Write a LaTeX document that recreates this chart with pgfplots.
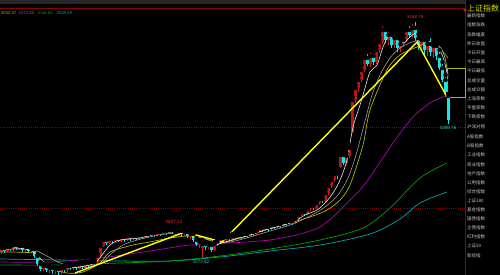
\documentclass[border=0pt]{standalone}
\usepackage{fontspec}
\setmainfont{Liberation Sans}
\newfontfamily\cjk{Noto Sans CJK SC}
\usepackage{pgfplots}
\usepackage{pgfplotstable}
\pgfplotsset{compat=1.18}
\definecolor{candred}{HTML}{E01818}
\definecolor{candcyan}{HTML}{10E8E8}
\definecolor{ma5}{HTML}{E8E8E8}
\definecolor{ma10}{HTML}{9A9A9A}
\definecolor{ma20}{HTML}{B4B400}
\definecolor{ma60}{HTML}{B000B0}
\definecolor{ma120}{HTML}{00A000}
\definecolor{ma250}{HTML}{00A8A8}
\definecolor{gridred}{HTML}{8C0000}
\definecolor{trend}{HTML}{FFFF00}
\definecolor{paneltext}{HTML}{C8C8C8}
\definecolor{labred}{HTML}{E03030}
\definecolor{labcyan}{HTML}{20C8C8}

% y values are screen rows (y dir = reverse): o=open, c=close, h=high, l=low
\pgfplotstableread{
x o c h l
1.5 252 248 246 254
7.5 251 247 245 252
13.5 249 245 243 251
19.5 248 246 244 250
25.5 250 247 245 252
31.5 251 249 247 253
43.5 269 266 264 271
49.5 270 268 266 273
55.5 271 269 267 274
61.5 272 268 266 274
67.5 270 266 264 272
73.5 268 265 263 270
79.5 268 264 262 269
85.5 267 263 261 268
91.5 266 262 260 267
97.5 264 256 254 265
100.5 256 246 244 257
103.5 246 240 238 247
109.5 243 239 237 244
115.5 241 238 236 243
121.5 241 237 235 242
127.5 240 236 234 241
133.5 239 236 234 240
139.5 238 235 233 239
145.5 237 234 232 238
151.5 236 233 231 237
157.5 235 232 230 236
163.5 234 231 229 235
169.5 233 230 228 234
178.5 233 231 229 235
184.5 234 232 230 236
190.5 236 234 232 239
199.5 244 242 240 248
202.5 248 244 240 258
208.5 247 245 243 249
214.5 250 244 242 251
217.5 244 241 239 246
220.5 241 238 236 243
226.5 240 237 235 241
232.5 239 236 234 240
238.5 238 235 233 239
244.5 237 234 232 238
250.5 236 232 230 237
256.5 234 231 229 235
259.5 231 228 226 232
265.5 230 227 225 231
271.5 229 225 223 230
277.5 227 224 222 228
283.5 226 222 220 227
289.5 224 221 219 225
295.5 223 219 217 224
298.5 219 215 213 220
301.5 215 212 210 216
307.5 214 209 207 215
310.5 209 206 204 211
316.5 208 203 201 209
319.5 203 199 197 205
325.5 201 193 190 202
328.5 193 186 183 195
331.5 186 180 177 188
334.5 180 174 171 182
340.5 167 155 152 168
346.5 163 156 153 165
349.5 156 148 145 158
352.5 132 100 97 133
355.5 100 88 85 103
358.5 88 80 76 92
361.5 80 70 65 82
364.5 70 58 55 72
370.5 64 56 50 67
376.5 62 50 47 64
379.5 50 42 38 53
382.5 42 30 24 44
388.5 40 35 30 45
394.5 45 38 33 48
400.5 48 44 40 52
403.5 44 40 36 47
406.5 40 30 26 42
412.5 35 28 22 38
421.5 45 40 37 50
427.5 50 44 40 56
433.5 52 46 42 58
}\redcandles

\pgfplotstableread{
x o c h l
4.5 248 251 246 253
10.5 247 249 244 251
16.5 245 248 243 250
22.5 246 250 245 252
28.5 247 251 246 253
34.5 249 256 248 258
37.5 256 264 255 266
40.5 264 269 262 271
46.5 266 270 265 272
52.5 268 271 267 274
58.5 269 272 268 275
64.5 268 270 266 272
70.5 266 268 264 270
76.5 265 268 264 270
82.5 264 267 262 269
88.5 263 266 262 268
94.5 262 264 260 266
106.5 240 243 238 245
112.5 239 241 237 243
118.5 238 241 236 242
124.5 237 240 235 242
130.5 236 239 234 241
136.5 236 238 233 240
142.5 235 237 233 239
148.5 234 236 232 238
154.5 233 235 231 237
160.5 232 234 230 236
166.5 231 233 229 235
172.5 230 232 226 234
175.5 232 233 230 236
181.5 231 234 229 236
187.5 232 236 231 238
193.5 234 240 233 242
196.5 240 244 238 246
205.5 244 247 242 250
211.5 245 250 244 252
223.5 238 240 236 242
229.5 237 239 235 241
235.5 236 238 234 240
241.5 235 237 233 239
247.5 234 236 232 238
253.5 232 234 230 236
262.5 228 230 226 232
268.5 227 229 225 231
274.5 225 227 223 229
280.5 224 226 222 228
286.5 222 224 220 226
292.5 221 223 219 225
304.5 212 214 210 216
313.5 206 208 203 210
322.5 199 201 196 203
337.5 174 176 170 179
343.5 155 163 152 165
367.5 58 64 52 66
373.5 56 62 52 65
385.5 30 40 27 43
391.5 35 45 32 48
397.5 38 48 35 52
409.5 30 35 24 38
415.5 28 38 20 41
418.5 38 45 34 50
424.5 40 50 38 55
430.5 44 52 36 56
436.5 46 56 44 60
439.5 56 68 50 70
442.5 68 80 62 82
445.5 80 92 75 95
448.5 96 120 94 124
}\cyancandles

\begin{document}
\begin{tikzpicture}
\path[use as bounding box] (0,0) rectangle (500pt,275pt);
\clip (0,0) rectangle (500pt,275pt);
\fill[black] (0,0) rectangle (500pt,275pt);
\begin{axis}[
  at={(0,0)}, anchor=south west,
  scale only axis, width=500pt, height=275pt,
  xmin=0, xmax=500, ymin=0, ymax=275, y dir=reverse,
  axis lines=none, clip=false,
]
% top strip and frame lines
\addplot[draw=none, fill=black!85!white, forget plot] coordinates {(0,4) (465,4)} \closedcycle;
\addplot[gridred, line width=0.9pt, forget plot] coordinates {(0,8.5) (465,8.5)};
\addplot[gridred, line width=0.9pt, forget plot] coordinates {(465.5,0) (465.5,275)};
\addplot[gridred, line width=0.6pt, dash pattern=on 1pt off 1.2pt, forget plot] coordinates {(0,127) (465,127)};
\addplot[gridred, line width=0.6pt, dash pattern=on 1pt off 1.2pt, forget plot] coordinates {(0,208) (465,208)};

% long moving averages
\addplot[ma250, line width=0.7pt, smooth, forget plot] coordinates {(0,259)(60,260)(120,261)(170,261)(220,257)(270,251)(320,245)(370,234)(400,219)(420,203)(447,192)};
\addplot[ma120, line width=0.7pt, smooth, forget plot] coordinates {(0,265)(60,265)(120,263)(170,261)(220,256)(270,249)(320,240)(363,228)(390,208)(420,178)(447,163)};
\addplot[ma60, line width=0.7pt, smooth, forget plot] coordinates {(0,262)(50,262)(100,258)(150,251)(190,245)(230,243)(270,240)(300,234)(320,227)(335,215)(347,203)(360,190)(370,177)(385,155)(395,140)(413,117)(430,103)(443,97)(450,96)};

% candles: wicks
\addplot[only marks, mark=none, forget plot, error bars/.cd, y dir=plus, y explicit, error mark=none,
  error bar style={draw=candred, line width=0.6pt}]
  table[x=x, y=h, y error plus expr=\thisrow{l}-\thisrow{h}] {\redcandles};
\addplot[only marks, mark=none, forget plot, error bars/.cd, y dir=plus, y explicit, error mark=none,
  error bar style={draw=candcyan, line width=0.6pt}]
  table[x=x, y=h, y error plus expr=\thisrow{l}-\thisrow{h}] {\cyancandles};
% candles: bodies
\addplot[only marks, mark=none, forget plot, error bars/.cd, y dir=plus, y explicit, error mark=none,
  error bar style={draw=candred!85!black, line width=2.2pt}]
  table[x=x, y=c, y error plus expr={max(\thisrow{o}-\thisrow{c},0.8)}] {\redcandles};
\addplot[only marks, mark=none, forget plot, error bars/.cd, y dir=plus, y explicit, error mark=none,
  error bar style={draw=candcyan, line width=2.2pt}]
  table[x=x, y=o, y error plus expr={max(\thisrow{c}-\thisrow{o},0.8)}] {\cyancandles};

% short moving averages
\addplot[ma20, line width=0.7pt, smooth, forget plot] coordinates {(0,252)(33,253)(40,260)(50,268)(67,273)(83,272)(100,263)(110,252)(133,245)(150,242)(170,238)(190,236)(210,240)(225,242)(240,238)(265,230)(283,225)(310,217)(327,210)(340,200)(350,185)(363,145)(370,110)(387,70)(400,55)(417,47)(430,42)(440,47)(445,58)(448,75)};
\addplot[ma10, line width=0.6pt, smooth, forget plot] coordinates {(0,250)(30,249)(45,255)(60,263)(80,268)(100,264)(112,253)(125,244)(145,238)(165,234)(185,233)(200,237)(215,242)(230,242)(250,237)(270,231)(290,225)(310,216)(325,207)(338,195)(348,178)(356,155)(364,125)(372,95)(380,75)(390,58)(400,48)(412,42)(425,40)(437,45)(448,58)};
\addplot[ma5, line width=0.6pt, smooth, forget plot] coordinates {(0,249)(15,248)(30,250)(38,256)(45,263)(55,268)(70,268)(85,266)(95,263)(102,255)(110,245)(120,240)(140,238)(160,233)(180,232)(192,236)(202,242)(212,246)(222,243)(235,239)(250,235)(265,230)(280,226)(295,221)(305,215)(317,210)(325,203)(333,193)(340,180)(347,160)(353,127)(360,105)(365,88)(370,72)(377,65)(383,47)(388,37)(393,37)(403,43)(410,37)(417,33)(427,40)(437,47)(443,57)(448,77)};

% trend lines
\addplot[trend, line width=1.4pt, forget plot] coordinates {(75,273)(185,232)(222,242)(417,42)(447,97)};
% selection box
\addplot[ma20, line width=0.6pt, forget plot] coordinates {(447,68)(465,68)(465,97)(447,97)(447,68)};
\addplot[only marks, mark=triangle*, mark size=1.6pt, candred, mark options={rotate=180}, forget plot] coordinates {(465,10)};

% price labels
\node[text=labred, font=\fontsize{4.6}{5}\selectfont, inner sep=0] at (415,17) {3458.79};
\node[text=labcyan, font=\fontsize{4.6}{5}\selectfont, inner sep=0] at (448,127.5) {3289.76};
\node[text=labred, font=\fontsize{4.6}{5}\selectfont, inner sep=0] at (174,222) {2857.12};
\node[text=labcyan, font=\fontsize{4.6}{5}\selectfont, inner sep=0] at (201,262) {2072.62};

% MA values legend
\node[anchor=west, text=ma20, font=\fontsize{4.2}{5}\selectfont, inner sep=0] at (0.8,13) {3042.47};
\node[anchor=west, text=ma60!80!white, font=\fontsize{4.2}{5}\selectfont, inner sep=0] at (18.5,13) {3273.36};
\node[anchor=west, text=ma120, font=\fontsize{4.2}{5}\selectfont, inner sep=0] at (37.5,13) {3118.63};
\node[anchor=west, text=ma250, font=\fontsize{4.2}{5}\selectfont, inner sep=0] at (56.5,13) {3039.29};

% right panel
\node[anchor=west, text=trend!85!black, font=\cjk\fontsize{8}{9}\selectfont, inner sep=0] at (467,8.5) {上证指数};
\begin{scope}[every node/.style={anchor=west, text=paneltext, font=\cjk\fontsize{4.5}{5}\selectfont, inner sep=0}]
\node at (467,16) {最新指数};
\node at (467,25.2) {指数涨跌};
\node at (467,34.4) {涨跌幅度};
\node at (467,43.6) {昨日收盘};
\node at (467,52.8) {今日开盘};
\node at (467,62) {今日最高};
\node at (467,71.2) {今日最低};
\node at (467,80.4) {总成交量};
\node at (467,89.6) {总成交额};
\node at (467,98.8) {上涨家数};
\node at (467,108) {平盘家数};
\node at (467,117.2) {下跌家数};
\node at (467,126.4) {沪深对照};
\node at (467,137) {A股指数};
\node at (467,146.1) {B股指数};
\node at (467,155.2) {工业指数};
\node at (467,164.3) {商业指数};
\node at (467,173.4) {地产指数};
\node at (467,182.5) {公用指数};
\node at (467,191.6) {综合指数};
\node at (467,200.7) {上证180};
\node at (467,209.8) {基金指数};
\node at (467,218.9) {国债指数};
\node at (467,228) {企债指数};
\node at (467,237.1) {红利指数};
\node at (467,246.2) {上证50};
\node at (467,255.3) {新综指};
\end{scope}
\end{axis}
\end{tikzpicture}
\end{document}
